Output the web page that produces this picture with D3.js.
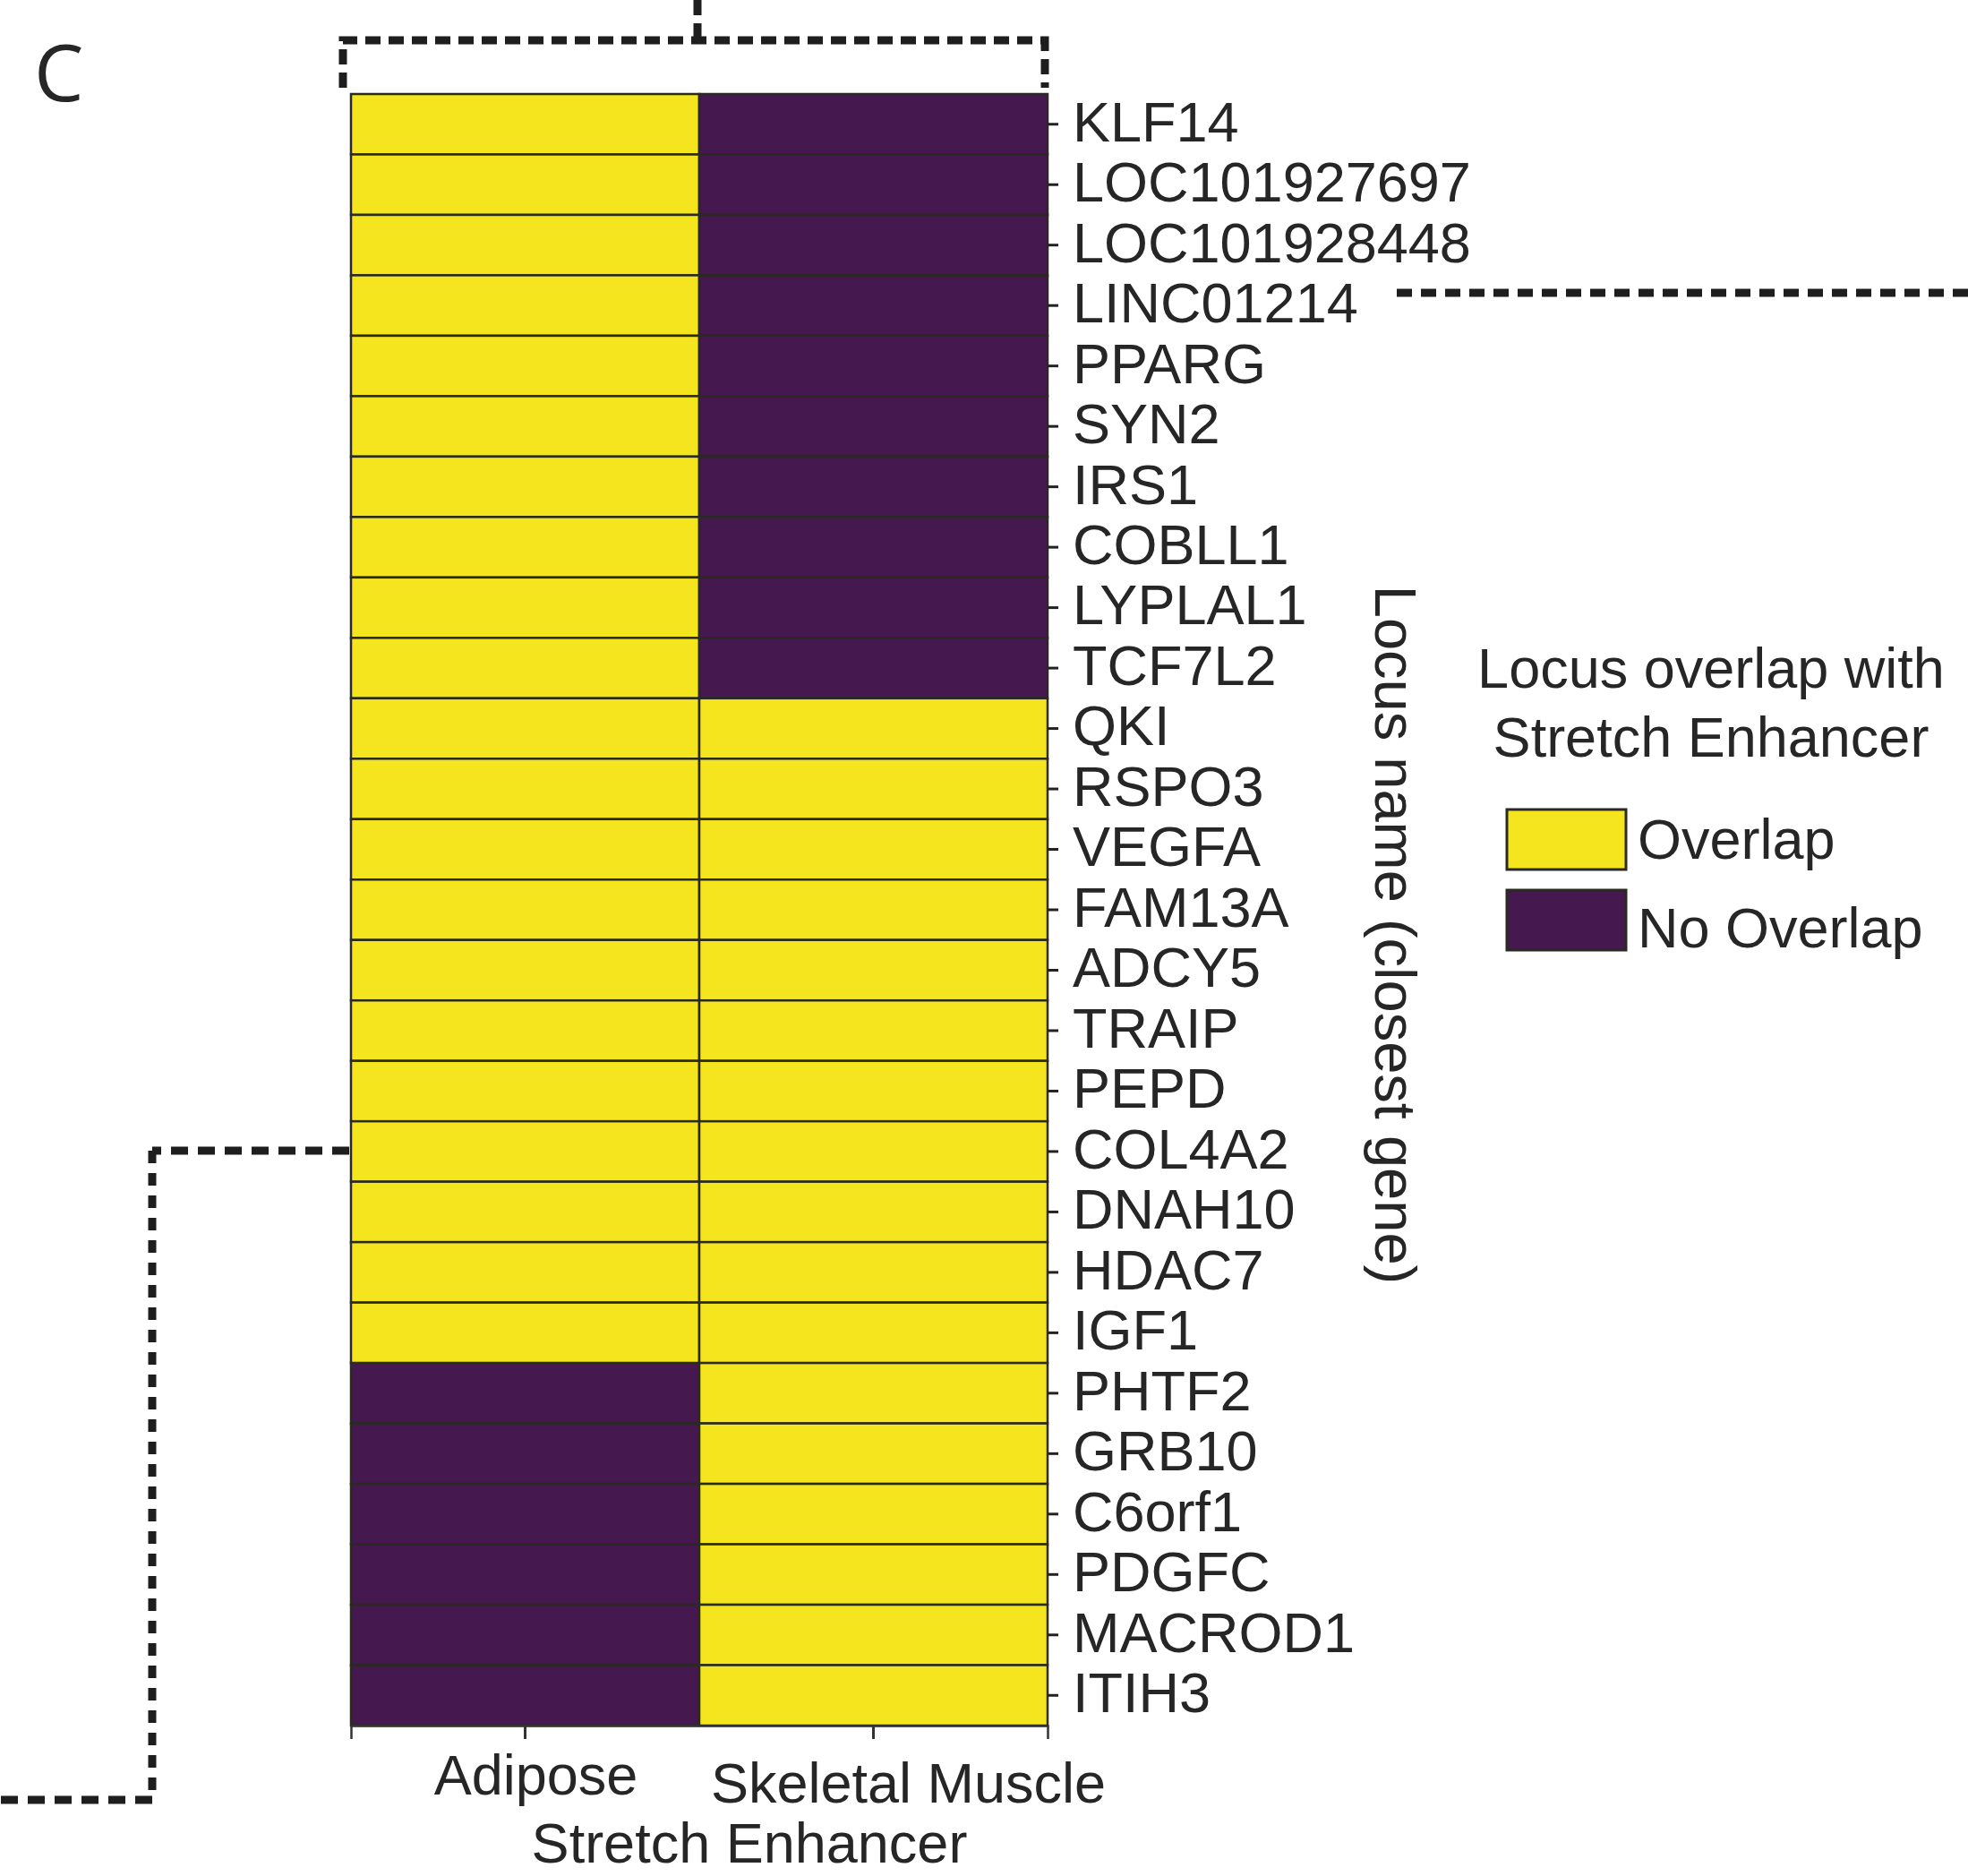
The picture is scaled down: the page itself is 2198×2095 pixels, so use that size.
<!DOCTYPE html>
<html>
<head>
<meta charset="utf-8">
<script src="https://cdn.jsdelivr.net/npm/d3@7"></script>
<style>
  html, body { margin: 0; padding: 0; background: #ffffff; }
  svg { display: block; }
  text { font-family: "Liberation Sans", Arial, Helvetica, sans-serif; fill: #262626; }
</style>
</head>
<body>
<svg id="chart" width="2198" height="2095"></svg>
<script>
// ---------------- data ----------------
const loci = ["KLF14","LOC101927697","LOC101928448","LINC01214","PPARG","SYN2","IRS1","COBLL1","LYPLAL1","TCF7L2",
  "QKI","RSPO3","VEGFA","FAM13A","ADCY5","TRAIP","PEPD","COL4A2","DNAH10","HDAC7","IGF1",
  "PHTF2","GRB10","C6orf1","PDGFC","MACROD1","ITIH3"];
const tissues = ["Adipose", "Skeletal Muscle"];
// 1 = Overlap, 0 = No Overlap
const adiposeOverlap = [1,1,1,1,1,1,1,1,1,1, 1,1,1,1,1,1,1,1,1,1,1, 0,0,0,0,0,0];
const muscleOverlap  = [0,0,0,0,0,0,0,0,0,0, 1,1,1,1,1,1,1,1,1,1,1, 1,1,1,1,1,1];
const legendLabels = ["Overlap", "No Overlap"];
const legendValues = [1, 0];
const xTitle = "Stretch Enhancer";
const yTitle = "Locus name (closest gene)";
const legendTitle = ["Locus overlap with", "Stretch Enhancer"];
const panelLabel = "C";

(function () {
// ---------------- layout ----------------
const svg = d3.select("#chart");
const hmLeft = 392, hmRight = 1170, hmTop = 105, hmBottom = 1927;
const yellow = "#F5E51E", purple = "#45194F", edge = "#2a2a22";
const fontSize = 63;

const x = d3.scaleBand().domain(tissues).range([hmLeft, hmRight]).padding(0);
const y = d3.scaleBand().domain(loci).range([hmTop, hmBottom]).padding(0);
const color = d3.scaleOrdinal().domain([1, 0]).range([yellow, purple]);

const cells = [];
loci.forEach((l, i) => {
  cells.push({ locus: l, tissue: tissues[0], v: adiposeOverlap[i] });
  cells.push({ locus: l, tissue: tissues[1], v: muscleOverlap[i] });
});

// heatmap cells
svg.append("g").selectAll("rect").data(cells).join("rect")
  .attr("x", d => x(d.tissue))
  .attr("y", d => y(d.locus))
  .attr("width", x.bandwidth())
  .attr("height", y.bandwidth())
  .attr("fill", d => color(d.v))
  .attr("stroke", edge)
  .attr("stroke-width", 2.5);

// y axis (right side)
const yAxis = svg.append("g")
  .attr("transform", `translate(${hmRight},0)`)
  .call(d3.axisRight(y).tickSize(12).tickPadding(16));
yAxis.select(".domain").remove();
yAxis.selectAll(".tick line").attr("stroke", "#222").attr("stroke-width", 3);
yAxis.selectAll(".tick text")
  .style("font-size", fontSize + "px")
  .style("font-family", '"Liberation Sans", Arial, sans-serif')
  .attr("fill", "#262626")
  .attr("dy", "0.3em");

// x axis
const xAxis = svg.append("g")
  .attr("transform", `translate(0,${hmBottom})`)
  .call(d3.axisBottom(x).tickSize(15).tickSizeOuter(15).tickPadding(22));
xAxis.select(".domain").attr("stroke", "#333").attr("stroke-width", 2.5);
xAxis.selectAll(".tick line").attr("stroke", "#333").attr("stroke-width", 3);
const xLabelShift = { "Adipose": [12, -5], "Skeletal Muscle": [39, 4] };
xAxis.selectAll(".tick text")
  .style("font-size", fontSize + "px")
  .style("font-family", '"Liberation Sans", Arial, sans-serif')
  .attr("fill", "#262626")
  .attr("dx", d => xLabelShift[d][0])
  .attr("dy", d => (0.71 + xLabelShift[d][1] / fontSize) + "em");

// x title
svg.append("text")
  .attr("x", 837).attr("y", 2080)
  .attr("text-anchor", "middle")
  .style("font-size", fontSize + "px")
  .text(xTitle);

// y title (rotated, reading top to bottom)
svg.append("text")
  .attr("transform", "translate(1536,1044) rotate(90)")
  .attr("text-anchor", "middle")
  .style("font-size", "65px")
  .text(yTitle);

// legend
const lg = svg.append("g");
lg.selectAll("text.title").data(legendTitle).join("text")
  .attr("class", "title")
  .attr("x", 1911)
  .attr("y", (d, i) => 768 + i * 77)
  .attr("text-anchor", "middle")
  .style("font-size", fontSize + "px")
  .text(d => d);
const items = lg.selectAll("g.item").data(legendLabels).join("g")
  .attr("class", "item")
  .attr("transform", (d, i) => `translate(1683,${904 + i * 90})`);
items.append("rect")
  .attr("width", 133).attr("height", 67)
  .attr("fill", (d, i) => color(legendValues[i]))
  .attr("stroke", edge).attr("stroke-width", 3);
items.append("text")
  .attr("x", 146).attr("y", (d, i) => 55 + i * 9)
  .style("font-size", fontSize + "px")
  .text(d => d);

// panel label
svg.append("text")
  .attr("x", 38).attr("y", 113)
  .style("font-family", '"Open Sans", "Noto Sans", sans-serif')
  .style("font-size", "88px")
  .attr("fill", "#333")
  .text(panelLabel);

// dashed connector lines
const dashed = (pts, dash) => svg.append("path")
  .attr("d", d3.line()(pts))
  .attr("fill", "none")
  .attr("stroke", "#1e1e1e")
  .attr("stroke-width", 9)
  .attr("stroke-dasharray", dash);

// top bracket
dashed([[383, 98], [383, 45], [1167, 45], [1167, 98]], "17,9");
dashed([[779, 0], [779, 45]], "17,9");
// right connector from LINC01214
dashed([[1560, 327], [2198, 327]], "17,10");
// left connector from COL4A2
dashed([[390, 1285], [170, 1285]], "19,11");
dashed([[170, 1285], [170, 2010]], "14,11");
dashed([[170, 2010], [0, 2010]], "19,11");
})();
</script>
</body>
</html>
